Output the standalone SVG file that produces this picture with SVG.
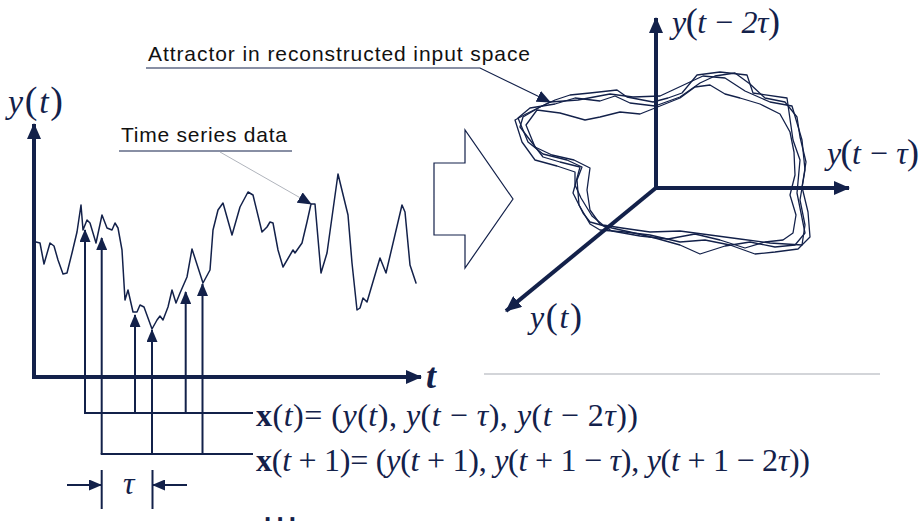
<svg xmlns="http://www.w3.org/2000/svg" width="921" height="527" viewBox="0 0 921 527">
<style>
.ax{stroke:#13214a;stroke-width:4;fill:none}
.ln{stroke:#13214a;stroke-width:2;fill:none}
.cv{stroke:#13214a;stroke-width:1.5;fill:none;stroke-linejoin:round;stroke-linecap:round}
.at{stroke:#13214a;stroke-width:1.3;fill:none;stroke-linejoin:round}
.m{font-family:"Liberation Serif","Times New Roman",serif;fill:#13214a}
.i{font-style:italic}
.p{font-style:normal}
.lbl{font-family:"Liberation Sans",Arial,sans-serif;font-size:21px;fill:#111}
</style>
<defs>
<marker id="ah" markerUnits="userSpaceOnUse" markerWidth="16" markerHeight="14" refX="15" refY="7" orient="auto"><path d="M0,0 L16,7 L0,14 z" fill="#13214a"/></marker>
<marker id="as" markerUnits="userSpaceOnUse" markerWidth="13" markerHeight="11" refX="12" refY="5.5" orient="auto"><path d="M0,0 L13,5.5 L0,11 z" fill="#13214a"/></marker>
<marker id="al" markerUnits="userSpaceOnUse" markerWidth="14" markerHeight="12" refX="13" refY="6" orient="auto"><path d="M0,0 L14,6 L0,12 z" fill="#13214a"/></marker>
</defs>

<g id="timeseries-plot">
<path class="ax" d="M34,377 L34,124" marker-end="url(#ah)"/>
<path class="ax" d="M32,377 L421,377" marker-end="url(#ah)"/>
<path class="cv" d="M36,242 L40,243 L44,264 L50,243 L54,246 L58,260 L63,274 L67,273 L72,253 L77,232 L81,205 L83,230 L87,220 L90,223 L96,243 L102,215 L107,228 L112,230 L115,223 L118,228 L122,250 L125,300 L128,290 L133,312 L137,312 L140,305 L144,307 L152,329 L157,320 L160,316 L163,320 L168,307 L172,290 L176,303 L180,293 L187,277 L192,249 L203,283 L210,270 L213,230 L218,210 L223,203 L232,235 L240,207 L248,192 L253,195 L262,232 L267,227 L270,222 L273,223 L278,250 L283,267 L293,250 L295,253 L302,243 L307,222 L311,204 L315,204 L321,273 L327,253 L338,174 L348,215 L352,263 L357,310 L360,308 L363,298 L367,302 L380,258 L386,273 L402,205 L405,212 L410,265 L416,283"/>
<text class="m i" x="8" y="113" font-size="34" textLength="55">y<tspan class="p" font-size="38">(</tspan>t<tspan class="p" font-size="38">)</tspan></text>
<text class="m i" x="426" y="388" font-size="36" font-weight="bold">t</text>
</g>

<g id="time-series-label">
<text class="lbl" x="121" y="142" textLength="166">Time series data</text>
<path d="M119,151 L292,151" stroke="#13214a" stroke-width="1.2"/>
<path d="M220,152 L311,204" stroke="#b0b4bc" stroke-width="1" marker-end="url(#al)"/>
</g>

<g id="connectors">
<path class="ln" d="M85,413 L85,230" marker-end="url(#as)"/>
<path class="ln" d="M101.7,454 L101.7,238" marker-end="url(#as)"/>
<path class="ln" d="M135,413 L135,315" marker-end="url(#as)"/>
<path class="ln" d="M152,454 L152,330" marker-end="url(#as)"/>
<path class="ln" d="M185.7,413 L185.7,292" marker-end="url(#as)"/>
<path class="ln" d="M202.5,454 L202.5,284" marker-end="url(#as)"/>
<path class="ln" d="M84,413 L253,413"/>
<path class="ln" d="M100.7,454 L253,454"/>
</g>

<g id="tau-dimension">
<path class="ln" d="M101.7,470 L101.7,509"/>
<path class="ln" d="M152.5,470 L152.5,509"/>
<path class="ln" d="M67,485 L101,485" marker-end="url(#as)"/>
<path class="ln" d="M187,485 L153,485" marker-end="url(#as)"/>
<text class="m i" x="123" y="494" font-size="32">τ</text>
</g>

<g id="equations">
<text class="m" x="256" y="426" font-size="32" textLength="382"><tspan font-weight="bold">x</tspan>(<tspan class="i">t</tspan>)= (<tspan class="i">y</tspan>(<tspan class="i">t</tspan>), <tspan class="i">y</tspan>(<tspan class="i">t</tspan> − <tspan class="i">τ</tspan>), <tspan class="i">y</tspan>(<tspan class="i">t</tspan> − 2<tspan class="i">τ</tspan>))</text>
<text class="m" x="256" y="471" font-size="32" textLength="554"><tspan font-weight="bold">x</tspan>(<tspan class="i">t</tspan> + 1)= (<tspan class="i">y</tspan>(<tspan class="i">t</tspan> + 1), <tspan class="i">y</tspan>(<tspan class="i">t</tspan> + 1 − <tspan class="i">τ</tspan>), <tspan class="i">y</tspan>(<tspan class="i">t</tspan> + 1 − 2<tspan class="i">τ</tspan>))</text>
<text x="264" y="521" font-family="Liberation Sans, Arial, sans-serif" font-size="26" font-weight="bold" fill="#13214a" textLength="32">...</text>
</g>

<g id="transform-arrow">
<polygon points="434,163 465,163 465,130 513,199 465,268 465,235 434,235" fill="none" stroke="#13214a" stroke-width="1.2"/>
</g>

<g id="phase-space">
<path class="ax" d="M656,188 L656,18" marker-end="url(#ah)"/>
<path class="ax" d="M654,188 L849,188" marker-end="url(#ah)"/>
<path class="ax" d="M657,187 L506,311" marker-end="url(#ah)"/>
<path class="at" d="M520,127 L523,117 L540,107 L555,100 L570,95 L590,93 L617,90 L627,97 L653,102 L668,98 L682,93 L697,75 L720,72 L747,75 L753,93 L787,98 L793,140 L800,160 L797,193 L805,233 L795,245 L775,247 L750,242 L725,246 L700,254 L680,245 L655,238 L630,232 L612,228 L590,222 L583,213 L573,193 L580,167 L560,162 L543,157 Z"/>
<path class="at" d="M518,118 L530,108 L555,104 L575,98 L600,101 L615,96 L630,103 L655,106 L680,97 L700,83 L715,76 L735,73 L750,84 L765,98 L785,102 L797,117 L800,137 L806,162 L802,187 L808,212 L810,237 L798,249 L775,252 L755,254 L730,245 L705,240 L680,242 L650,235 L625,232 L600,230 L590,224 L579,205 L577,180 L582,167 L567,160 L543,154 L528,142 Z"/>
<path class="at" d="M526,125 L537,110 L560,113 L585,120 L600,117 L620,112 L640,114 L660,106 L680,98 L695,87 L710,85 L725,94 L740,98 L760,104 L780,114 L790,132 L794,152 L795,175 L790,195 L796,215 L793,233 L783,240 L765,242 L745,248 L720,240 L695,234 L668,239 L640,236 L612,231 L600,224 L590,210 L587,190 L590,168 L574,160 L552,155 L535,147 Z"/>
<path class="at" d="M515,120 L526,114 L550,102 L578,100 L610,94 L633,97 L660,96 L690,82 L703,76 L725,78 L745,91 L770,102 L792,106 L802,140 L805,170 L800,200 L805,225 L802,245 L770,243 L740,239 L710,235 L680,231 L650,232 L622,228 L603,225 L592,216 L581,198 L575,185 L575,172 L557,166 L535,160 L522,142 Z"/>
<text class="m i" x="672" y="33" font-size="32" textLength="108">y<tspan class="p" font-size="36">(</tspan>t − 2τ<tspan class="p" font-size="36">)</tspan></text>
<text class="m i" x="827" y="164" font-size="32" textLength="92">y<tspan class="p" font-size="36">(</tspan>t − τ<tspan class="p" font-size="36">)</tspan></text>
<text class="m i" x="530" y="328" font-size="32" textLength="52">y<tspan class="p" font-size="36">(</tspan>t<tspan class="p" font-size="36">)</tspan></text>
</g>

<g id="attractor-label">
<text class="lbl" x="148" y="61" textLength="382">Attractor in reconstructed input  space</text>
<path d="M146,68 L480,68 L550,102" fill="none" stroke="#13214a" stroke-width="1.2" marker-end="url(#al)"/>
</g>

<path d="M484,374 L880,374" stroke="#a8acb4" stroke-width="1.2"/>
</svg>
